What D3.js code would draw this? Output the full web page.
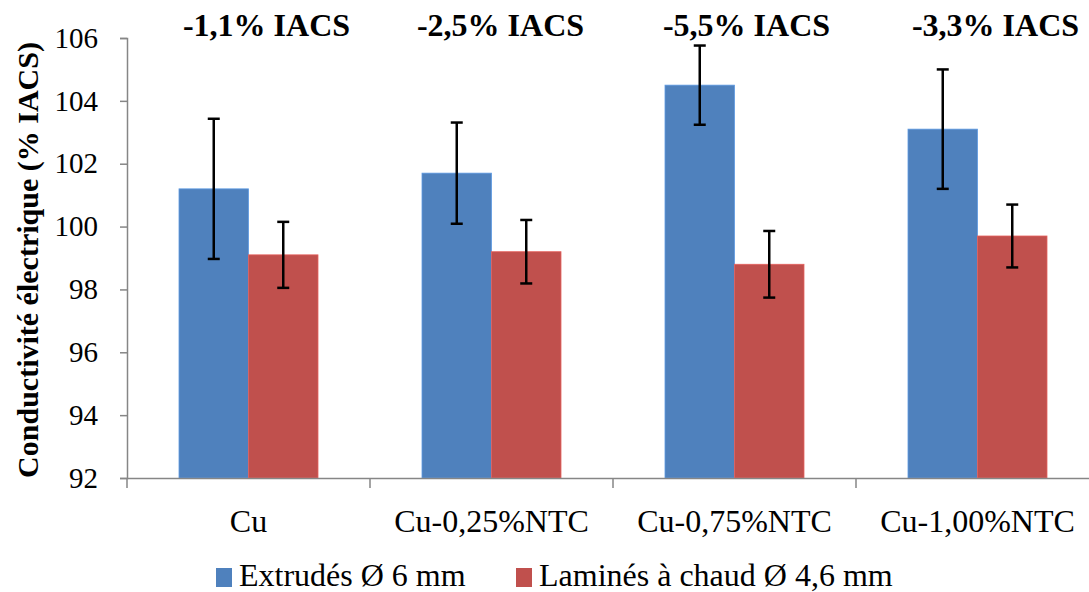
<!DOCTYPE html>
<html><head><meta charset="utf-8">
<script src="https://cdn.jsdelivr.net/npm/d3@7"></script>
</head><body style="margin:0"><svg id="c" width="1089" height="592"></svg>
<script>
const categories = ["Cu","Cu-0,25%NTC","Cu-0,75%NTC","Cu-1,00%NTC"];
const seriesNames = ["Extrudés Ø 6 mm","Laminés à chaud Ø 4,6 mm"];
const extrudes = [101.2,101.7,104.5,103.1];
const extrudesErr = [2.23,1.61,1.26,1.9];
const lamines = [99.1,99.2,98.8,99.7];
const laminesErr = [1.05,1.01,1.06,1.0];
const annotations = ["-1,1% IACS","-2,5% IACS","-5,5% IACS","-3,3% IACS"];
const yTicks = [92,94,96,98,100,102,104,106];
const colors = ["#4f81bd","#c0504d"];

const FONT = "'Liberation Serif'";
const annoOffset = [18, 9, 12, 18];
const svg = d3.select("#c");
const mLeft = 127, mRight = 1099, mTop = 38, mBottom = 478;
const x = d3.scaleBand().domain(categories).range([mLeft,mRight]).paddingInner(0.428).paddingOuter(0.214);
const xs = d3.scaleBand().domain([0,1]).range([0,x.bandwidth()]);
const y = d3.scaleLinear().domain([92,106]).range([mBottom,mTop]);
const axisColor = "#868686";

const ya = svg.append("g").attr("transform",`translate(${mLeft},0)`)
  .call(d3.axisLeft(y).tickValues(yTicks).tickSize(7).tickPadding(22).tickFormat(d3.format("d")));
ya.attr("font-family",null).attr("font-size",null);
ya.select(".domain").attr("stroke",axisColor).attr("stroke-width",1.5);
ya.selectAll(".tick line").attr("stroke",axisColor).attr("stroke-width",1.5);
ya.selectAll(".tick text").attr("fill","#000").style("font-family",FONT).style("font-size","29px");

const series = [{v:extrudes,e:extrudesErr},{v:lamines,e:laminesErr}];
series.forEach((s,si)=>{
  svg.append("g").selectAll("rect").data(categories).join("rect")
    .attr("x",(c)=>x(c)+xs(si)).attr("width",xs.bandwidth())
    .attr("y",(c,i)=>y(s.v[i])).attr("height",(c,i)=>y(92)-y(s.v[i]))
    .attr("fill",colors[si]).attr("stroke",d3.color(colors[si]).brighter(0.5)).attr("stroke-width",0.8);
});
series.forEach((s,si)=>{
  const g = svg.append("g").attr("stroke","#000").attr("stroke-width",2.5);
  categories.forEach((c,i)=>{
    const cx = x(c)+xs(si)+xs.bandwidth()/2;
    const y1 = y(s.v[i]+s.e[i]), y2 = y(s.v[i]-s.e[i]);
    g.append("line").attr("x1",cx).attr("x2",cx).attr("y1",y1).attr("y2",y2);
    g.append("line").attr("x1",cx-6).attr("x2",cx+6).attr("y1",y1).attr("y2",y1);
    g.append("line").attr("x1",cx-6).attr("x2",cx+6).attr("y1",y2).attr("y2",y2);
  });
});

const xa = svg.append("g").attr("transform",`translate(0,${mBottom})`)
  .call(d3.axisBottom(x).tickSize(0).tickPadding(31));
xa.attr("font-family",null).attr("font-size",null);
xa.select(".domain").attr("stroke",axisColor).attr("stroke-width",1.5);
xa.selectAll(".tick text").attr("fill","#000").style("font-family",FONT).style("font-size","32px");
const bounds = categories.map(c=>x(c)-x.step()*x.paddingInner()/2).concat([mRight]);
svg.append("g").selectAll("line").data(bounds).join("line")
  .attr("x1",d=>d).attr("x2",d=>d).attr("y1",mBottom).attr("y2",mBottom+10)
  .attr("stroke",axisColor).attr("stroke-width",1.5);

svg.append("g").selectAll("text").data(categories).join("text")
  .attr("x",(c,i)=>x(c)+x.bandwidth()/2+annoOffset[i]).attr("y",36)
  .attr("text-anchor","middle").style("font-family",FONT).style("font-weight","bold").style("font-size","32px")
  .text((c,i)=>annotations[i]);

svg.append("text").attr("transform","translate(38,260) rotate(-90)")
  .attr("text-anchor","middle").style("font-family",FONT).style("font-weight","bold").style("font-size","30px")
  .text("Conductivité électrique (% IACS)");

const lg = svg.append("g");
const lx = [216,516];
seriesNames.forEach((n,i)=>{
  lg.append("rect").attr("x",lx[i]).attr("y",568).attr("width",16).attr("height",19).attr("fill",colors[i]);
  lg.append("text").attr("x",lx[i]+23).attr("y",586).style("font-family",FONT).style("font-size","32px").text(n);
});
</script></body></html>
